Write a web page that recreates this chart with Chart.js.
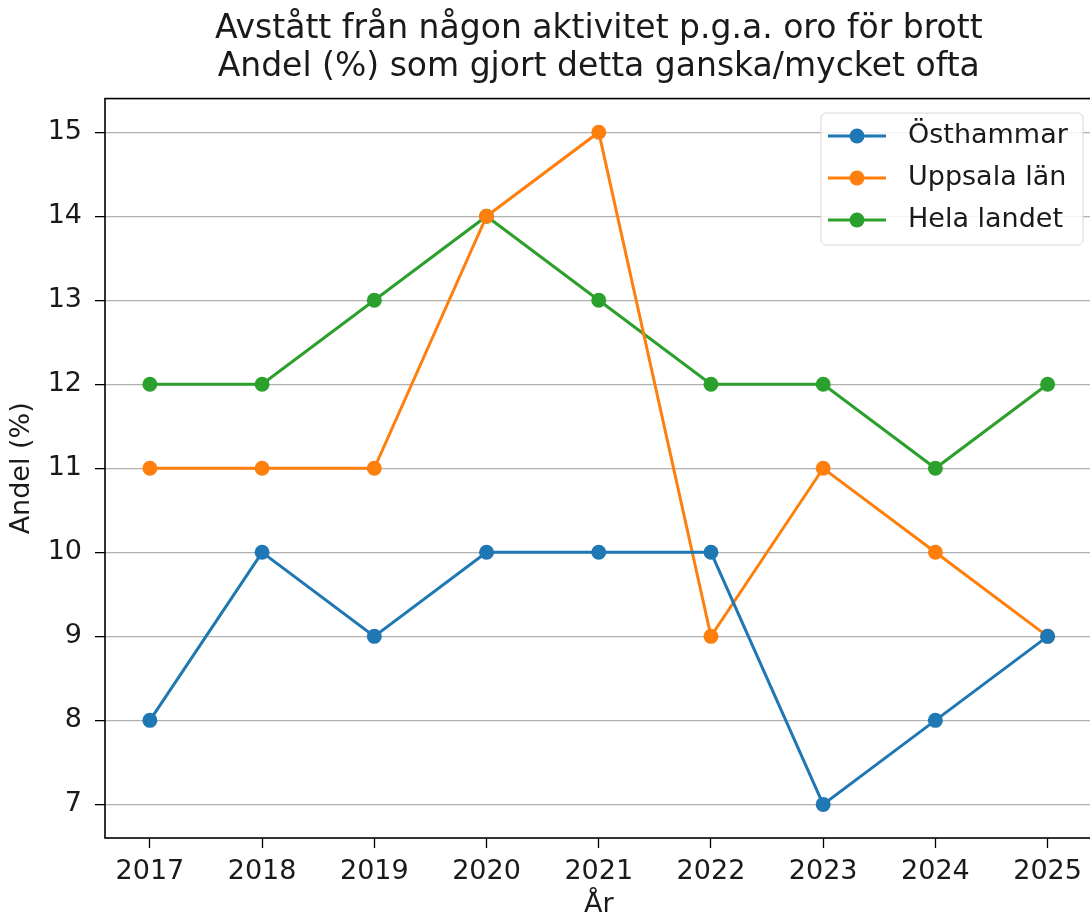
<!DOCTYPE html>
<html lang="sv">
<head>
    <meta charset="UTF-8">
    <title>Avstått från någon aktivitet</title>
    <script src="https://cdn.jsdelivr.net/npm/chart.js"></script>
    <style>
        html, body {
            margin: 0;
            padding: 0;
            background: #ffffff;
            overflow: hidden;
        }
        #wrap {
            width: 1100px;
            height: 922px;
        }
    </style>
</head>
<body>
    <div id="wrap"><canvas id="chart" width="1100" height="922"></canvas></div>

    <script>
        // Data
        const years = [2017, 2018, 2019, 2020, 2021, 2022, 2023, 2024, 2025];
        const osthammar = [8, 10, 9, 10, 10, 10, 7, 8, 9];
        const uppsalaLan = [11, 11, 11, 14, 15, 9, 11, 10, 9];
        const helaLandet = [12, 12, 13, 14, 13, 12, 12, 11, 12];
        const yTicks = [7, 8, 9, 10, 11, 12, 13, 14, 15];

        const FONT = "'DejaVu Sans', sans-serif";
        const pts = (vals) => vals.map((v, i) => ({ x: years[i], y: v }));

        function serie(label, vals, color) {
            return {
                label: label,
                data: pts(vals),
                borderColor: color,
                backgroundColor: color,
                borderWidth: 3,
                pointRadius: 7.5,
                pointHoverRadius: 7.5,
                pointBorderWidth: 0,
                tension: 0
            };
        }

        // ram runt ritytan + legend inne i diagrammet
        const frameAndLegend = {
            id: 'frameAndLegend',
            afterDatasetsDraw(chart) {
                const { ctx, chartArea: a } = chart;
                ctx.save();
                ctx.strokeStyle = '#000';
                ctx.lineWidth = 1.6;
                ctx.strokeRect(a.left, a.top, a.right - a.left, a.bottom - a.top);

                // legend
                const bx = 821, by = 113, bw = 262, bh = 132;
                ctx.fillStyle = 'rgba(255,255,255,0.85)';
                ctx.strokeStyle = '#d6d6d6';
                ctx.lineWidth = 1;
                ctx.beginPath();
                ctx.roundRect(bx, by, bw, bh, 5);
                ctx.fill();
                ctx.stroke();

                const rows = [136, 178, 220];
                chart.data.datasets.forEach((ds, i) => {
                    const y = rows[i];
                    ctx.strokeStyle = ds.borderColor;
                    ctx.lineWidth = 3;
                    ctx.beginPath();
                    ctx.moveTo(828, y);
                    ctx.lineTo(886, y);
                    ctx.stroke();
                    ctx.fillStyle = ds.borderColor;
                    ctx.beginPath();
                    ctx.arc(857, y, 7.5, 0, Math.PI * 2);
                    ctx.fill();
                    ctx.fillStyle = '#1a1a1a';
                    ctx.font = '27px ' + FONT;
                    ctx.textBaseline = 'middle';
                    ctx.textAlign = 'left';
                    ctx.fillText(ds.label, 908, y);
                });
                ctx.restore();
            }
        };

        const ctx = document.getElementById('chart').getContext('2d');
        new Chart(ctx, {
            type: 'line',
            data: {
                datasets: [
                    serie('Östhammar', osthammar, '#1f77b4'),
                    serie('Uppsala län', uppsalaLan, '#ff7f0e'),
                    serie('Hela landet', helaLandet, '#2ca02c')
                ]
            },
            options: {
                responsive: false,
                animation: false,
                layout: { padding: { left: 0, right: 3, top: 0, bottom: 0 } },
                plugins: {
                    legend: { display: false },
                    tooltip: { enabled: false },
                    title: {
                        display: true,
                        fullSize: false,
                        text: ['Avstått från någon aktivitet p.g.a. oro för brott',
                               'Andel (%) som gjort detta ganska/mycket ofta'],
                        color: '#1a1a1a',
                        font: { family: FONT, size: 33, weight: 'normal', lineHeight: 1.13 },
                        padding: { top: 11, bottom: 13 }
                    }
                },
                scales: {
                    x: {
                        type: 'linear',
                        min: 2016.6,
                        max: 2025.4,
                        afterBuildTicks: (s) => { s.ticks = years.map(v => ({ value: v })); },
                        afterFit: (s) => { s.height = 84; },
                        border: { display: false },
                        grid: {
                            drawOnChartArea: false,
                            drawTicks: true,
                            tickLength: 10,
                            tickColor: '#000',
                            tickWidth: 1.3
                        },
                        ticks: {
                            color: '#1a1a1a',
                            padding: 8,
                            maxRotation: 0,
                            font: { family: FONT, size: 27 },
                            callback: (v) => String(v)
                        },
                        title: {
                            display: true,
                            text: 'År',
                            color: '#1a1a1a',
                            font: { family: FONT, size: 27 },
                            padding: { top: 0, bottom: 1 }
                        }
                    },
                    y: {
                        min: 6.6,
                        max: 15.4,
                        afterBuildTicks: (s) => { s.ticks = yTicks.map(v => ({ value: v })); },
                        afterFit: (s) => { s.width = 105; },
                        border: { display: false },
                        grid: {
                            color: '#b0b0b0',
                            lineWidth: 1.3,
                            drawTicks: true,
                            tickLength: 10,
                            tickColor: '#000',
                            tickWidth: 1.3
                        },
                        ticks: {
                            color: '#1a1a1a',
                            padding: 13,
                            font: { family: FONT, size: 27 }
                        },
                        title: {
                            display: true,
                            text: 'Andel (%)',
                            color: '#1a1a1a',
                            font: { family: FONT, size: 27 },
                            padding: { top: 6, bottom: 0 }
                        }
                    }
                }
            },
            plugins: [frameAndLegend]
        });
    </script>
</body>
</html>
